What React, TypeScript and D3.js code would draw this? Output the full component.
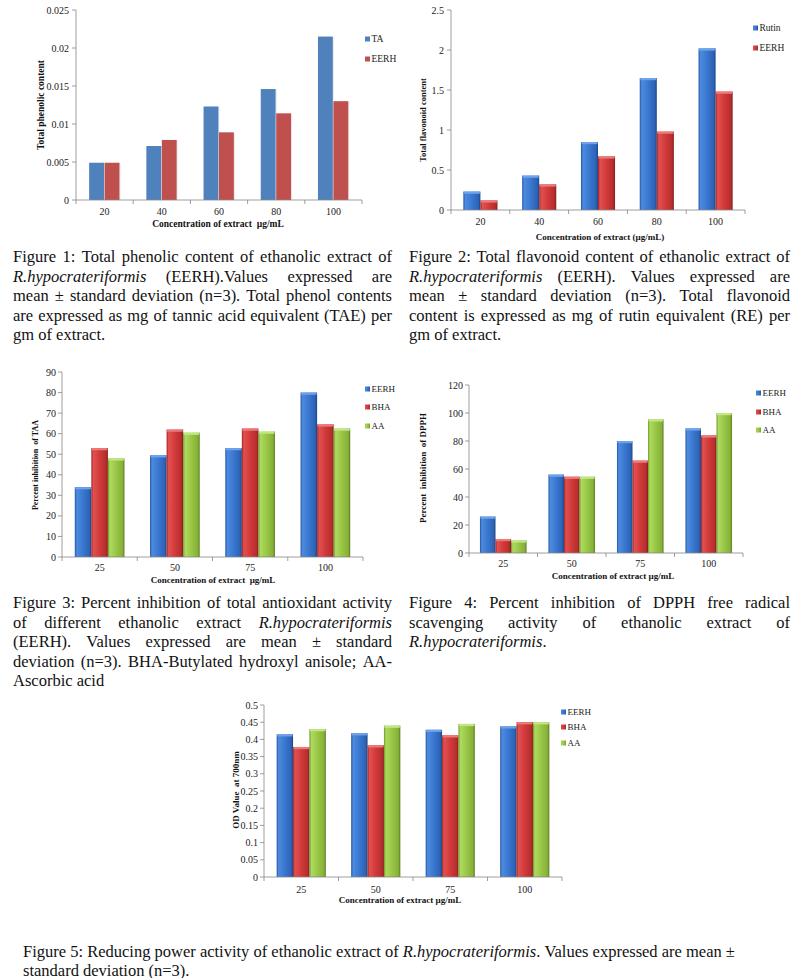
import React from 'react';
import * as d3 from 'd3';

// ---------- DATA ----------
const concA = ['20', '40', '60', '80', '100'];
const phenolicTA = [0.0049, 0.0071, 0.0123, 0.0146, 0.0215];
const phenolicEERH = [0.0049, 0.0079, 0.0089, 0.0114, 0.013];
const phenolicTicks = [0, 0.005, 0.01, 0.015, 0.02, 0.025];
const phenolicTickLabels = ['0', '0.005', '0.01', '0.015', '0.02', '0.025'];

const flavRutin = [0.23, 0.43, 0.85, 1.65, 2.02];
const flavEERH = [0.12, 0.32, 0.67, 0.98, 1.48];
const flavTicks = [0, 0.5, 1, 1.5, 2, 2.5];
const flavTickLabels = ['0', '0.5', '1', '1.5', '2', '2.5'];

const concB = ['25', '50', '75', '100'];
const taaEERH = [34, 49.5, 53, 80];
const taaBHA = [53, 62, 62.5, 64.5];
const taaAA = [48, 60.5, 61, 62.5];
const taaTicks = [0, 10, 20, 30, 40, 50, 60, 70, 80, 90];
const taaTickLabels = ['0', '10', '20', '30', '40', '50', '60', '70', '80', '90'];

const dpphEERH = [26, 56, 80, 89];
const dpphBHA = [10, 54.5, 66, 84];
const dpphAA = [9, 54.5, 95.5, 100];
const dpphTicks = [0, 20, 40, 60, 80, 100, 120];
const dpphTickLabels = ['0', '20', '40', '60', '80', '100', '120'];

const odEERH = [0.415, 0.418, 0.428, 0.438];
const odBHA = [0.378, 0.383, 0.412, 0.45];
const odAA = [0.43, 0.44, 0.445, 0.45];
const odTicks = [0, 0.05, 0.1, 0.15, 0.2, 0.25, 0.3, 0.35, 0.4, 0.45, 0.5];
const odTickLabels = ['0', '0.05', '0.1', '0.15', '0.2', '0.25', '0.3', '0.35', '0.4', '0.45', '0.5'];

const caption1 = [
  'Figure 1: Total phenolic content of ethanolic extract of',
  '*R.hypocrateriformis* (EERH).Values expressed are',
  'mean ± standard deviation (n=3). Total phenol contents',
  'are expressed as mg of tannic acid equivalent (TAE) per',
  'gm of extract.',
];
const caption2 = [
  'Figure 2: Total flavonoid content of ethanolic extract of',
  '*R.hypocrateriformis* (EERH). Values expressed are',
  'mean ± standard deviation (n=3). Total flavonoid',
  'content is expressed as mg of rutin equivalent (RE) per',
  'gm of extract.',
];
const caption3 = [
  'Figure 3: Percent inhibition of total antioxidant activity',
  'of different ethanolic extract *R.hypocrateriformis*',
  '(EERH). Values expressed are mean ± standard',
  'deviation (n=3). BHA-Butylated hydroxyl anisole; AA-',
  'Ascorbic acid',
];
const caption4 = [
  'Figure 4: Percent inhibition of DPPH free radical',
  'scavenging activity of ethanolic extract of',
  '*R.hypocrateriformis*.',
];
const caption5 = [
  'Figure 5: Reducing power activity of ethanolic extract of *R.hypocrateriformis*. Values expressed are mean ±',
  'standard deviation (n=3).',
];

// ---------- STYLE ----------
const SERIF = '"Liberation Serif", "Times New Roman", serif';
const AXIS = '#868686';

const flatColors: Record<string, string> = { blue: '#4F81BD', red: '#C0504D', green: '#9BBB59' };
const bevel: Record<string, string[]> = {
  blue: ['#24559e', '#4c8be0', '#3a77cf', '#2d63b6', '#1b4584'],
  red: ['#9e2424', '#e35050', '#d13a3a', '#b72e2e', '#841c1c'],
  green: ['#6f9428', '#addb5e', '#99c646', '#86b138', '#5b7a20'],
};
const capColors: Record<string, string> = { blue: '#6ea2ea', red: '#ec7a7a', green: '#c2e684' };

let ctx: CanvasRenderingContext2D | null = null;
function measure(text: string, italic: boolean, size: number) {
  if (!ctx) ctx = document.createElement('canvas').getContext('2d');
  if (!ctx) return text.length * size * 0.45;
  ctx.font = `${italic ? 'italic ' : ''}${size}px "Liberation Serif"`;
  return ctx.measureText(text).width;
}

type Seg = { t: string; it: boolean };
function parseWord(w: string): Seg[] {
  const out: Seg[] = [];
  const re = /\*([^*]+)\*|([^*]+)/g;
  let m: RegExpExecArray | null;
  while ((m = re.exec(w))) {
    if (m[1]) out.push({ t: m[1], it: true });
    else if (m[2]) out.push({ t: m[2], it: false });
  }
  return out;
}

function Caption({ lines, x0, x1, y0, lh, justify, size = 16.5 }: { lines: string[]; x0: number; x1: number; y0: number; lh: number; justify: boolean; size?: number }) {
  return (
    <g fontFamily={SERIF} fontSize={size} fill="#111">
      {lines.map((line, li) => {
        const words = line.split(/\s+/).filter(Boolean).map(parseWord);
        const widths = words.map((segs) => segs.reduce((s, g) => s + measure(g.t, g.it, size), 0));
        const total = widths.reduce((a, b) => a + b, 0);
        const isLast = li === lines.length - 1;
        const space = measure(' ', false, size);
        const gap = justify && !isLast && words.length > 1 ? (x1 - x0 - total) / (words.length - 1) : space;
        let x = x0;
        const y = y0 + li * lh;
        return (
          <text key={li} y={y}>
            {words.map((segs, wi) => {
              const px = x;
              x += widths[wi] + gap;
              return segs.map((g, gi) => (
                <tspan key={wi + '-' + gi} x={gi === 0 ? px : undefined} fontStyle={g.it ? 'italic' : 'normal'}>
                  {g.t}
                </tspan>
              ));
            })}
          </text>
        );
      })}
    </g>
  );
}

type Series = { name: string; values: number[]; color: string };
type ChartProps = {
  id: string;
  categories: string[];
  series: Series[];
  ticks: number[];
  tickLabels: string[];
  left: number; right: number; top: number; bottom: number;
  groupFrac: number;
  flat?: boolean;
  tickRight: number;
  xLabelY: number;
  xTitle: string; xTitleX: number; xTitleY: number; xTitleSize: number;
  yTitle: string; yTitleX: number; yTitleY: number; yTitleSize: number;
  legendX: number; legendY: number[]; legendSize: number; legendBox: number;
  tickSize?: number;
};

function BarChart(p: ChartProps) {
  const yMax = p.ticks[p.ticks.length - 1];
  const x = d3.scaleBand<string>().domain(p.categories).range([p.left, p.right]).padding(0);
  const y = d3.scaleLinear().domain([0, yMax]).range([p.bottom, p.top]);
  const gw = x.bandwidth() * p.groupFrac;
  const inner = d3.scaleBand<string>().domain(p.series.map((s) => s.name)).range([0, gw]).padding(0);
  const ts = p.tickSize ?? 10;
  const bounds = [...p.categories.map((c) => x(c) as number), p.right];
  return (
    <g>
      <defs>
        {!p.flat && Object.keys(bevel).map((k) => (
          <linearGradient key={k} id={`${p.id}-${k}`} x1="0" x2="1" y1="0" y2="0">
            <stop offset="0" stopColor={bevel[k][0]} />
            <stop offset="0.12" stopColor={bevel[k][1]} />
            <stop offset="0.5" stopColor={bevel[k][2]} />
            <stop offset="0.88" stopColor={bevel[k][3]} />
            <stop offset="1" stopColor={bevel[k][4]} />
          </linearGradient>
        ))}
      </defs>
      {p.series.map((s) => (
        <g key={s.name}>
          {s.values.map((v, i) => {
            const bx = (x(p.categories[i]) as number) + (x.bandwidth() - gw) / 2 + (inner(s.name) as number);
            const by = y(v);
            const bw = inner.bandwidth();
            const bh = p.bottom - by;
            if (p.flat) {
              return (
                <g key={i}>
                  <rect x={bx + 0.5} y={by} width={bw} height={bh} fill="#d9d9d9" opacity={0.5} />
                  <rect x={bx} y={by} width={bw - 0.6} height={bh} fill={flatColors[s.color]} />
                </g>
              );
            }
            return (
              <g key={i}>
                <rect x={bx} y={by} width={bw} height={bh} fill={`url(#${p.id}-${s.color})`} />
                <rect x={bx + 0.5} y={by} width={bw - 1} height={2.2} fill={capColors[s.color]} />
              </g>
            );
          })}
        </g>
      ))}
      <line x1={p.left} x2={p.left} y1={p.top} y2={p.bottom} stroke={AXIS} strokeWidth={0.8} />
      <line x1={p.left} x2={p.right} y1={p.bottom} y2={p.bottom} stroke={AXIS} strokeWidth={0.8} />
      {p.ticks.map((t, i) => (
        <g key={i}>
          <line x1={p.left - 4} x2={p.left} y1={y(t)} y2={y(t)} stroke={AXIS} strokeWidth={0.8} />
          <text x={p.tickRight} y={y(t)} dy="0.35em" textAnchor="end" fontFamily={SERIF} fontSize={ts} fill="#222">
            {p.tickLabels[i]}
          </text>
        </g>
      ))}
      {bounds.map((b, i) => (
        <line key={i} x1={b} x2={b} y1={p.bottom} y2={p.bottom + 4} stroke={AXIS} strokeWidth={0.8} />
      ))}
      {p.categories.map((c) => (
        <text key={c} x={(x(c) as number) + x.bandwidth() / 2} y={p.xLabelY} textAnchor="middle" fontFamily={SERIF} fontSize={ts} fill="#222">
          {c}
        </text>
      ))}
      <text x={p.xTitleX} y={p.xTitleY} textAnchor="middle" fontFamily={SERIF} fontWeight="bold" fontSize={p.xTitleSize} fill="#111" style={{ whiteSpace: 'pre' }}>
        {p.xTitle}
      </text>
      <text transform={`translate(${p.yTitleX},${p.yTitleY}) rotate(-90)`} textAnchor="middle" dy="0.35em" fontFamily={SERIF} fontWeight="bold" fontSize={p.yTitleSize} fill="#111" style={{ whiteSpace: 'pre' }}>
        {p.yTitle}
      </text>
      {p.series.map((s, i) => (
        <g key={s.name}>
          <rect x={p.legendX} y={p.legendY[i] - p.legendBox / 2} width={p.legendBox} height={p.legendBox}
            fill={p.flat ? flatColors[s.color] : `url(#${p.id}-${s.color})`} />
          <text x={p.legendX + p.legendBox + 1.5} y={p.legendY[i]} dy="0.35em" fontFamily={SERIF} fontSize={p.legendSize} fill="#222">
            {s.name}
          </text>
        </g>
      ))}
    </g>
  );
}

export default function App() {
  return (
    <svg width={800} height={978} viewBox="0 0 800 978" style={{ position: 'absolute', left: 0, top: 0, background: '#fff' }}>
      <rect width={800} height={978} fill="#fff" />
      <BarChart id="c1" categories={concA} flat
        series={[{ name: 'TA', values: phenolicTA, color: 'blue' }, { name: 'EERH', values: phenolicEERH, color: 'red' }]}
        ticks={phenolicTicks} tickLabels={phenolicTickLabels}
        left={76} right={362} top={10} bottom={200} groupFrac={0.54}
        tickRight={69} xLabelY={215}
        xTitle="Concentration of extract  µg/mL" xTitleX={218} xTitleY={227} xTitleSize={9.5}
        yTitle="Total phenolic content" yTitleX={41} yTitleY={105} yTitleSize={9.5}
        legendX={365} legendY={[39, 59]} legendSize={9.5} legendBox={5} />
      <BarChart id="c2" categories={concA}
        series={[{ name: 'Rutin', values: flavRutin, color: 'blue' }, { name: 'EERH', values: flavEERH, color: 'red' }]}
        ticks={flavTicks} tickLabels={flavTickLabels}
        left={451} right={745} top={10} bottom={210} groupFrac={0.58}
        tickRight={444} xLabelY={225}
        xTitle="Concentration of extract (µg/mL)" xTitleX={600} xTitleY={240} xTitleSize={9}
        yTitle="Total flavonoid content" yTitleX={423} yTitleY={120} yTitleSize={8.5}
        legendX={753} legendY={[28, 48]} legendSize={9.5} legendBox={5} />
      <Caption lines={caption1} x0={13} x1={392} y0={262} lh={19.5} justify />
      <Caption lines={caption2} x0={409} x1={790} y0={262} lh={19.5} justify />

      <BarChart id="c3" categories={concB}
        series={[{ name: 'EERH', values: taaEERH, color: 'blue' }, { name: 'BHA', values: taaBHA, color: 'red' }, { name: 'AA', values: taaAA, color: 'green' }]}
        ticks={taaTicks} tickLabels={taaTickLabels}
        left={62} right={363} top={372} bottom={557} groupFrac={0.66}
        tickRight={56} xLabelY={571}
        xTitle="Concentration of extract  µg/mL" xTitleX={213} xTitleY={583} xTitleSize={9}
        yTitle="Percent inhibition  of TAA" yTitleX={35} yTitleY={465} yTitleSize={8}
        legendX={365} legendY={[389, 407, 426]} legendSize={9} legendBox={5} />
      <BarChart id="c4" categories={concB}
        series={[{ name: 'EERH', values: dpphEERH, color: 'blue' }, { name: 'BHA', values: dpphBHA, color: 'red' }, { name: 'AA', values: dpphAA, color: 'green' }]}
        ticks={dpphTicks} tickLabels={dpphTickLabels}
        left={469} right={743} top={385} bottom={553} groupFrac={0.68}
        tickRight={463} xLabelY={567}
        xTitle="Concentration of extract µg/mL" xTitleX={613} xTitleY={579} xTitleSize={9}
        yTitle="Percent  inhibition  of DPPH" yTitleX={423} yTitleY={468} yTitleSize={9}
        legendX={756} legendY={[393, 412, 430]} legendSize={9} legendBox={5} />
      <Caption lines={caption3} x0={13} x1={392} y0={608} lh={19.5} justify />
      <Caption lines={caption4} x0={409} x1={790} y0={608} lh={19.5} justify />

      <BarChart id="c5" categories={concB}
        series={[{ name: 'EERH', values: odEERH, color: 'blue' }, { name: 'BHA', values: odBHA, color: 'red' }, { name: 'AA', values: odAA, color: 'green' }]}
        ticks={odTicks} tickLabels={odTickLabels}
        left={264} right={562} top={705} bottom={877} groupFrac={0.66}
        tickRight={258} xLabelY={893}
        xTitle="Concentration of extract µg/mL" xTitleX={400} xTitleY={903} xTitleSize={9}
        yTitle="OD Value  at 700nm" yTitleX={236} yTitleY={790} yTitleSize={9}
        legendX={561} legendY={[712, 727, 743]} legendSize={9} legendBox={5} />
      <Caption lines={caption5} x0={23} x1={780} y0={957} lh={18.5} justify={false} />
    </svg>
  );
}
